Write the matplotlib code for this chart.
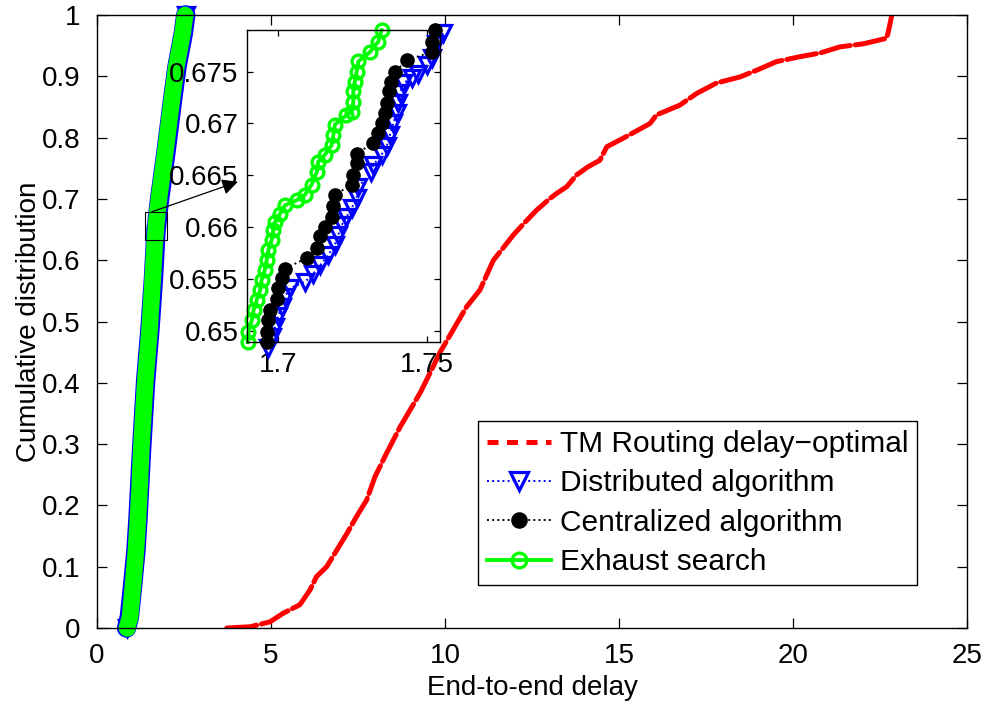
import matplotlib
matplotlib.use("Agg")
import matplotlib.pyplot as plt
from matplotlib.lines import Line2D
from matplotlib.patches import Rectangle


plt.rcParams['font.family'] = ['Liberation Sans', 'DejaVu Sans']
plt.rcParams['font.size'] = 20

# TM routing (delay-optimal) CDF
tm_x = [3.73, 4.40, 4.97, 5.35, 5.83, 6.12, 6.31, 6.60, 6.89, 7.18, 7.46, 7.75,
        7.99, 8.32, 8.71, 9.00, 9.28, 9.57, 9.86, 10.24, 10.62, 11.00, 11.39,
        11.70, 11.96, 12.30, 12.64, 13.00, 13.21, 13.50, 13.78, 14.10, 14.45,
        14.65, 15.22, 15.89, 16.08, 16.75, 17.23, 17.80, 18.48, 18.96, 19.53,
        20.20, 20.78, 21.35, 22.02, 22.69, 22.74, 22.84]
tm_y = [0.000, 0.002, 0.010, 0.024, 0.038, 0.062, 0.084, 0.100, 0.127, 0.154,
        0.182, 0.209, 0.247, 0.285, 0.328, 0.356, 0.383, 0.416, 0.450, 0.487,
        0.524, 0.551, 0.600, 0.622, 0.641, 0.662, 0.682, 0.700, 0.709, 0.720,
        0.739, 0.752, 0.763, 0.785, 0.802, 0.823, 0.837, 0.853, 0.872, 0.889,
        0.899, 0.910, 0.924, 0.932, 0.938, 0.948, 0.953, 0.962, 0.973, 1.000]

# coarse samples of the three algorithm CDFs (outside the zoomed window)
dist_x = [0.85, 0.93, 1.03, 1.12, 1.18, 1.23, 1.28, 1.40, 1.52, 1.62, 1.68,
          1.80, 1.99, 2.17, 2.30, 2.48, 2.55]
dist_y = [0.000, 0.018, 0.073, 0.127, 0.181, 0.236, 0.290, 0.405, 0.486, 0.568,
          0.630, 0.700, 0.780, 0.861, 0.916, 0.970, 1.000]
cent_x = [0.87, 0.96, 1.05, 1.13, 1.19, 1.24, 1.28, 1.40, 1.52, 1.61, 1.67,
          1.79, 1.98, 2.16, 2.29, 2.47, 2.54]
cent_y = [0.000, 0.018, 0.073, 0.127, 0.181, 0.236, 0.290, 0.405, 0.486, 0.568,
          0.630, 0.700, 0.780, 0.861, 0.916, 0.970, 1.000]
exh_x = [0.86, 0.95, 1.04, 1.12, 1.18, 1.23, 1.27, 1.39, 1.51, 1.60, 1.66,
         1.78, 1.97, 2.15, 2.28, 2.46, 2.53]
exh_y = [0.000, 0.018, 0.073, 0.127, 0.181, 0.236, 0.290, 0.405, 0.486, 0.568,
         0.630, 0.700, 0.780, 0.861, 0.916, 0.970, 1.000]

# fine samples inside the zoomed window
dist_zx = [1.6968, 1.6979, 1.6990, 1.7001, 1.7012, 1.7023, 1.7040, 1.7090, 1.7119,
           1.7141, 1.7169, 1.7191, 1.7202, 1.7214, 1.7230, 1.7247, 1.7264, 1.7270,
           1.7314, 1.7320, 1.7348, 1.7365, 1.7376, 1.7387, 1.7398, 1.7404, 1.7409,
           1.7421, 1.7449, 1.7471, 1.7499, 1.7516, 1.7532, 1.7555]
dist_zy = [0.6483, 0.6494, 0.6504, 0.6514, 0.6523, 0.6533, 0.6541, 0.6547, 0.6555,
           0.6563, 0.6573, 0.6583, 0.6592, 0.6602, 0.6610, 0.6618, 0.6628, 0.6639,
           0.6653, 0.6660, 0.6670, 0.6678, 0.6689, 0.6700, 0.6710, 0.6720, 0.6729,
           0.6739, 0.6744, 0.6748, 0.6756, 0.6763, 0.6777, 0.6787]
cent_zx = [1.6962, 1.6962, 1.6968, 1.6973, 1.6996, 1.7001, 1.7012, 1.7023, 1.7096,
           1.7130, 1.7141, 1.7158, 1.7180, 1.7186, 1.7191, 1.7247, 1.7253, 1.7264,
           1.7264, 1.7320, 1.7337, 1.7348, 1.7359, 1.7365, 1.7374, 1.7381, 1.7393,
           1.7432, 1.7516, 1.7516, 1.7527]
cent_zy = [0.6489, 0.6499, 0.6510, 0.6520, 0.6531, 0.6541, 0.6551, 0.6560, 0.6570,
           0.6580, 0.6591, 0.6600, 0.6610, 0.6620, 0.6631, 0.6641, 0.6650, 0.6662,
           0.6671, 0.6681, 0.6691, 0.6700, 0.6710, 0.6720, 0.6731, 0.6740, 0.6750,
           0.6761, 0.6769, 0.6779, 0.6790]
exh_zx = [1.6898, 1.6901, 1.6912, 1.6918, 1.6929, 1.6940, 1.6945, 1.6956, 1.6962,
          1.6968, 1.6979, 1.6984, 1.6990, 1.7007, 1.7023, 1.7063, 1.7090, 1.7113,
          1.7130, 1.7135, 1.7158, 1.7180, 1.7186, 1.7191, 1.7230, 1.7247, 1.7253,
          1.7253, 1.7258, 1.7264, 1.7270, 1.7309, 1.7337, 1.7348]
exh_zy = [0.6489, 0.6499, 0.6510, 0.6520, 0.6530, 0.6539, 0.6549, 0.6559, 0.6568,
          0.6578, 0.6588, 0.6597, 0.6605, 0.6613, 0.6621, 0.6626, 0.6631, 0.6641,
          0.6653, 0.6663, 0.6670, 0.6679, 0.6689, 0.6699, 0.6708, 0.6711, 0.6721,
          0.6731, 0.6740, 0.6750, 0.6760, 0.6769, 0.6779, 0.6790]

x_ticks = [0, 5, 10, 15, 20, 25]
y_ticks = [0, 0.1, 0.2, 0.3, 0.4, 0.5, 0.6, 0.7, 0.8, 0.9, 1]
y_ticklabels = ['0', '0.1', '0.2', '0.3', '0.4', '0.5', '0.6', '0.7', '0.8', '0.9', '1']
zoom_xticks = [1.7, 1.75]
zoom_xticklabels = ['1.7', '1.75']
zoom_yticks = [0.65, 0.655, 0.66, 0.665, 0.67, 0.675]
zoom_yticklabels = ['0.65', '0.655', '0.66', '0.665', '0.67', '0.675']

labels = ['TM Routing delay\u2212optimal', 'Distributed algorithm',
          'Centralized algorithm', 'Exhaust search']

styles = {
    'dist': dict(color='#0000ff', ls=':', lw=1.4, marker='v', ms=11.5,
                 mfc='none', mec='#0000ff', mew=2.3),
    'cent': dict(color='black', ls=':', lw=1.4, marker='o', ms=9.5,
                 mfc='black', mec='black', mew=1),
    'exh': dict(color='#00ff00', ls='-', lw=2.8, marker='o', ms=9.2,
                mfc='none', mec='#00ff00', mew=2.4),
}


def merged(cx, cy, zx, zy):
    pts = sorted(zip(cx + zx, cy + zy), key=lambda p: (p[1], p[0]))
    return [p[0] for p in pts], [p[1] for p in pts]


fig = plt.figure(figsize=(9.87, 7.08), dpi=100)
ax = fig.add_axes([97 / 987, 80 / 708, 870 / 987, 613 / 708])

ax.plot(tm_x, tm_y, color='red', lw=3.6, dashes=(6, 1.0),
        dash_capstyle='round', solid_joinstyle='round')

# the dense markers in the full view merge into solid bands;
# only the end points keep a visible marker
bands = [('dist', dist_x, dist_y, dist_zx, dist_zy, 14),
         ('cent', cent_x, cent_y, cent_zx, cent_zy, 11),
         ('exh', exh_x, exh_y, exh_zx, exh_zy, 12)]
for key, cx, cy, zx, zy, width in bands:
    mx, my = merged(cx, cy, zx, zy)
    st = styles[key]
    ax.plot(mx, my, color=st['color'], lw=width, solid_capstyle='round',
            solid_joinstyle='round', clip_on=False)
    ax.plot(mx, my, clip_on=False, markevery=[0, len(mx) - 1], **st)

ax.set_xlim(0, 25)
ax.set_ylim(0, 1)
ax.set_xticks(x_ticks)
ax.set_yticks(y_ticks)
ax.set_yticklabels(y_ticklabels)
ax.tick_params(direction='in', top=True, right=True, length=7, width=0.9)
ax.tick_params(axis='x', pad=11)
ax.tick_params(axis='y', pad=12)
for sp in ax.spines.values():
    sp.set_linewidth(1.0)
ax.set_xlabel('End-to-end delay', labelpad=4)
ax.set_ylabel('Cumulative distribution', labelpad=0)

handles = [Line2D([], [], color='red', lw=3.6, dashes=(2.2, 1.7))]
handles += [Line2D([], [], **styles[k]) for k in ('dist', 'cent', 'exh')]
leg = ax.legend(handles, labels, loc='lower right',
                bbox_to_anchor=(0.9425, 0.070), borderaxespad=0,
                fancybox=False, edgecolor='black', framealpha=1,
                fontsize=21.5, markerscale=1.15, handlelength=2.15,
                handletextpad=0.27, labelspacing=0.38, borderpad=0.3)
leg.get_frame().set_linewidth(1.0)

# zoom window marker and pointer to the inset
ax.add_patch(Rectangle((1.38, 0.633), 0.63, 0.046, fill=False,
                       edgecolor='black', lw=0.8, zorder=5))
ax.annotate('', xy=(4.05, 0.728), xytext=(1.58, 0.679),
            arrowprops=dict(arrowstyle='-|>', color='black', lw=0.9,
                            mutation_scale=24, shrinkA=0, shrinkB=0),
            zorder=6)

ins = fig.add_axes([247 / 987, 366 / 708, 193 / 987, 312 / 708], zorder=3)
ins.plot(dist_zx, dist_zy, clip_on=False, **styles['dist'])
ins.plot(cent_zx, cent_zy, clip_on=False, **styles['cent'])
ins.plot(exh_zx, exh_zy, clip_on=False, **styles['exh'])
ins.set_xlim(1.6896, 1.7544)
ins.set_ylim(0.64891, 0.67902)
ins.set_xticks(zoom_xticks)
ins.set_xticklabels(zoom_xticklabels)
ins.set_yticks(zoom_yticks)
ins.set_yticklabels(zoom_yticklabels)
ins.tick_params(direction='in', top=True, right=True, length=4, width=0.9)
ins.tick_params(axis='x', pad=7)
ins.tick_params(axis='y', pad=6)
for sp in ins.spines.values():
    sp.set_linewidth(1.0)

fig.savefig('out.png', dpi=100)
